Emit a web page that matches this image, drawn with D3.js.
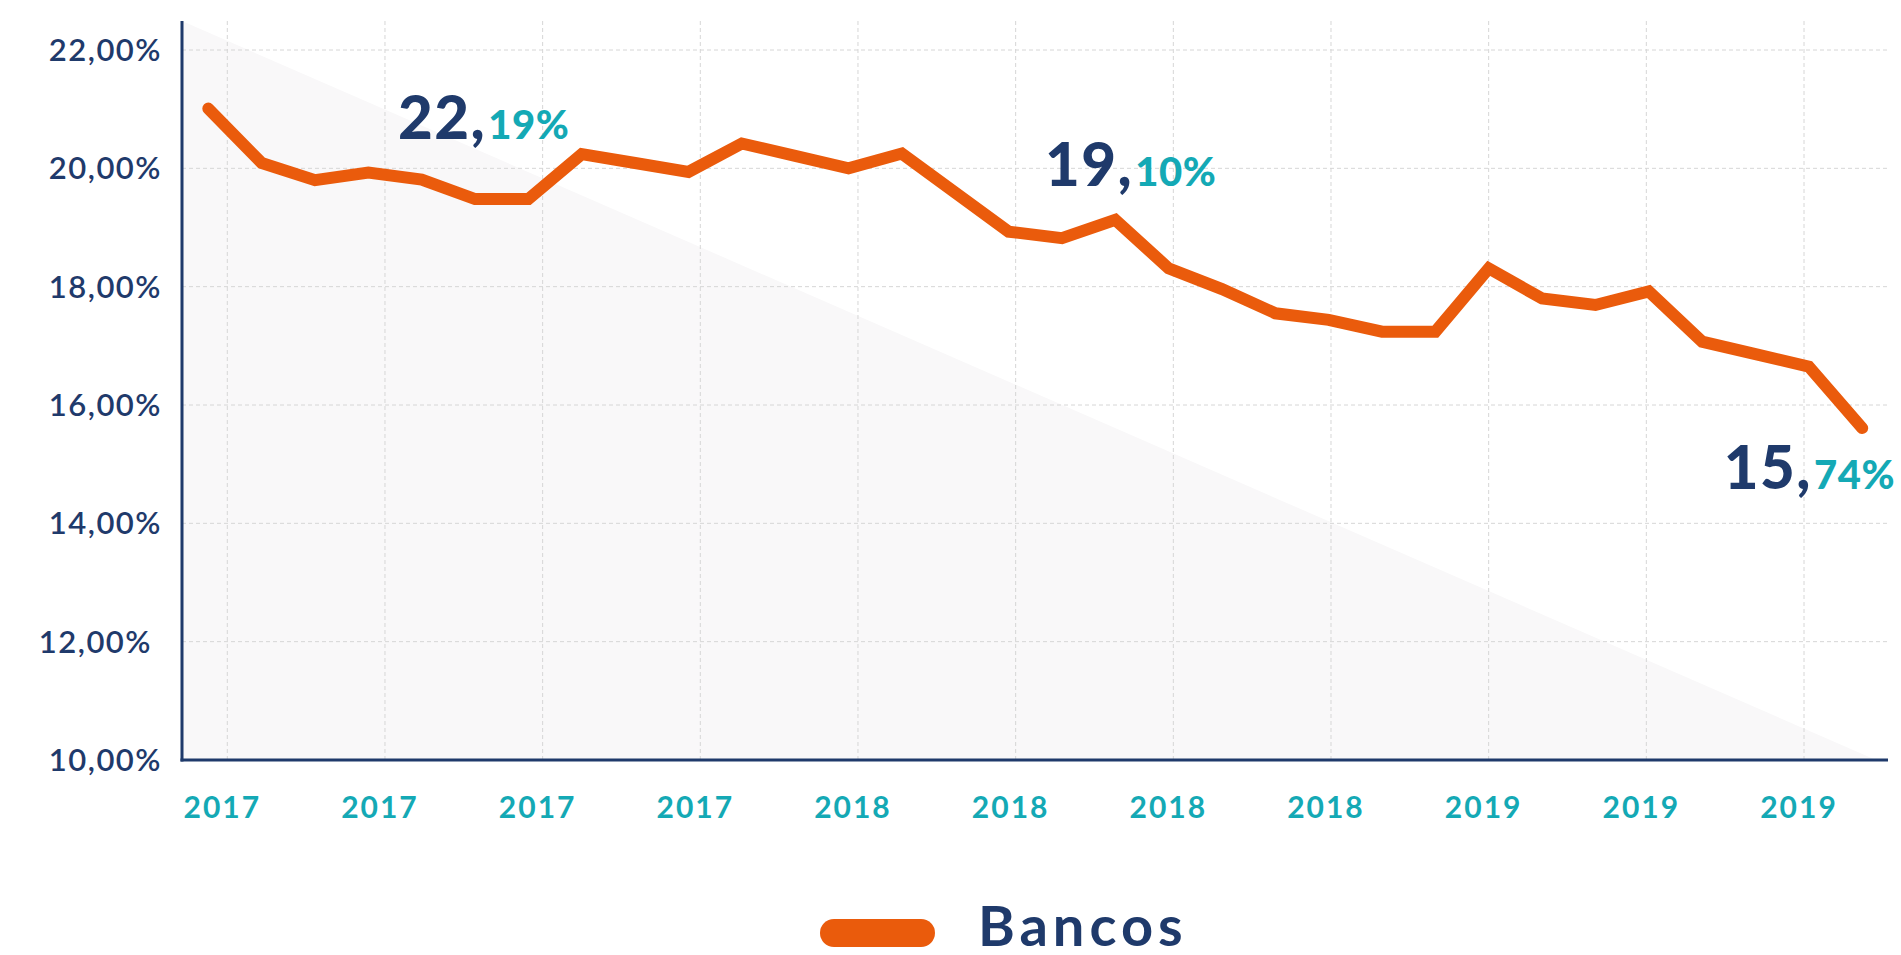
<!DOCTYPE html>
<html><head><meta charset="utf-8">
<script src="https://cdn.jsdelivr.net/npm/d3@7"></script>
<style>html,body{margin:0;padding:0;background:#fff;overflow:hidden}</style>
</head><body><svg id="c" width="1901" height="955"></svg>
<script>
// ---- data ----
const bancos = [21.01,20.09,19.80,19.93,19.81,19.48,19.48,20.24,20.09,19.94,20.42,20.21,20.00,20.25,19.59,18.93,
                18.82,19.13,18.31,17.96,17.55,17.44,17.24,17.24,18.31,17.80,17.69,17.92,17.07,16.86,16.65,15.61];
const periods = bancos.map((_, i) => i);
const xTickLabels = ["2017","2017","2017","2017","2018","2018","2018","2018","2019","2019","2019"];
const yTicks = [10,12,14,16,18,20,22];
const annotationTexts = [["22,","19%"],["19,","10%"],["15,","74%"]];
const seriesName = "Bancos";

// ---- style ----
const NAVY = "#1f3a6b", TEAL = "#14a9b5", ORANGE = "#ea5b0c", GRID = "#d6d6d6", SHADE = "#f9f8f9";
const FONT = "Lato, 'Open Sans', sans-serif";
const L = 182, R = 1888, T = 21, B = 760;

const svg = d3.select("#c");
const x = d3.scaleLinear().domain([0, periods.length - 1]).range([208.3, 1862.2]);
const y = d3.scaleLinear().domain([10, 22]).range([B, 50]);
const xt = d3.scalePoint().domain(d3.range(xTickLabels.length)).range([227.3, 1804]);

// shaded triangle
svg.append("path").attr("d", `M${L},${T}L1876,${B}L${L},${B}Z`).attr("fill", SHADE);

// grid
svg.append("g").selectAll("line").data(yTicks.filter(v => v > 10)).join("line")
  .attr("x1", L).attr("x2", R).attr("y1", d => y(d)).attr("y2", d => y(d))
  .attr("stroke", GRID).attr("stroke-width", 1).attr("stroke-dasharray", "4,3");
svg.append("g").selectAll("line").data(xt.domain()).join("line")
  .attr("x1", d => xt(d)).attr("x2", d => xt(d)).attr("y1", T).attr("y2", B)
  .attr("stroke", GRID).attr("stroke-width", 1).attr("stroke-dasharray", "4,3");

// axes lines
svg.append("line").attr("x1", L).attr("x2", L).attr("y1", T).attr("y2", B + 1.5)
  .attr("stroke", NAVY).attr("stroke-width", 3);
svg.append("line").attr("x1", L - 1.5).attr("x2", R).attr("y1", B).attr("y2", B)
  .attr("stroke", NAVY).attr("stroke-width", 3);

// y labels
const fmt = v => v.toFixed(2).replace(".", ",") + "%";
svg.append("g").selectAll("text").data(yTicks).join("text")
  .attr("x", 162).attr("y", d => y(d)).attr("dy", "0.36em")
  .attr("dx", d => d === 12 ? -10 : 0)
  .attr("text-anchor", "end").attr("fill", NAVY)
  .attr("font-family", FONT).attr("font-size", 31).attr("font-weight", 600)
  .attr("letter-spacing", 1.5)
  .text(fmt);

// x labels
svg.append("g").selectAll("text").data(xt.domain()).join("text")
  .attr("x", d => xt(d) - 5).attr("y", 817.5)
  .attr("text-anchor", "middle").attr("fill", TEAL)
  .attr("font-family", FONT).attr("font-size", 30).attr("font-weight", 700)
  .attr("letter-spacing", 2)
  .text(d => xTickLabels[d]);

// line
svg.append("path").datum(bancos)
  .attr("d", d3.line().x((d, i) => x(periods[i])).y(d => y(d)))
  .attr("fill", "none").attr("stroke", ORANGE).attr("stroke-width", 12)
  .attr("stroke-linecap", "round").attr("stroke-linejoin", "miter");

// annotations
const annPos = [[398, 139.3, "start"], [1045, 186, "start"], [1895, 489, "end"]];
annotationTexts.forEach((t, i) => {
  const txt = svg.append("text").attr("x", annPos[i][0]).attr("y", annPos[i][1])
    .attr("text-anchor", annPos[i][2])
    .attr("font-family", FONT).attr("font-weight", 900);
  txt.append("tspan").attr("fill", NAVY).attr("font-size", 60).attr("letter-spacing", 1.5).text(t[0]);
  txt.append("tspan").attr("fill", TEAL).attr("font-size", 40).attr("dx", 2).attr("letter-spacing", 0.5).text(t[1]);
});

// legend
svg.append("rect").attr("x", 820).attr("y", 919).attr("width", 115).attr("height", 28)
  .attr("rx", 14).attr("fill", ORANGE);
svg.append("text").attr("x", 978).attr("y", 946).attr("fill", NAVY)
  .attr("font-family", FONT).attr("font-size", 56).attr("font-weight", 700)
  .attr("letter-spacing", 5)
  .text(seriesName);
</script></body></html>
